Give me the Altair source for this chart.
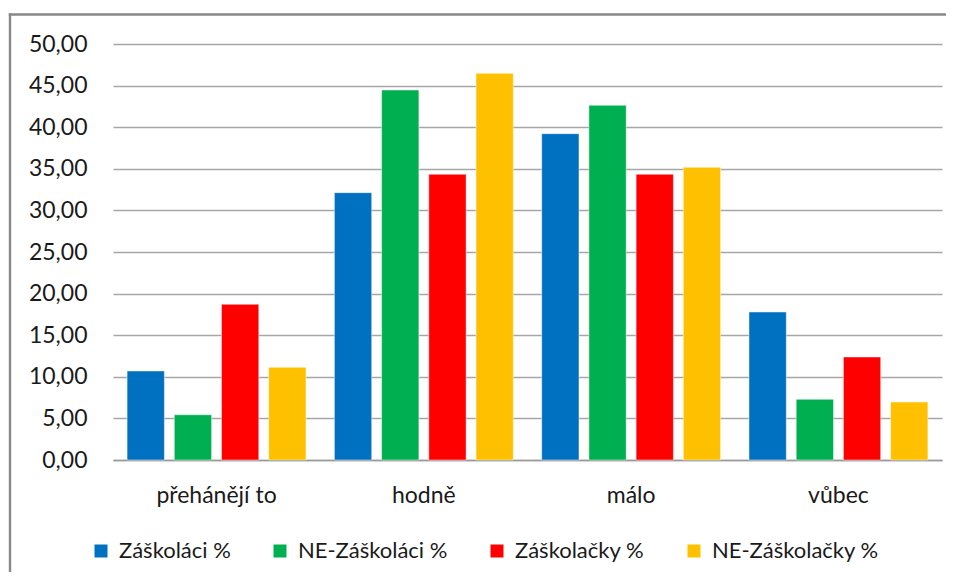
import altair as alt
import pandas as pd

categories = ["přehánějí to", "hodně", "málo", "vůbec"]
series = ["Záškoláci %", "NE-Záškoláci %", "Záškolačky %", "NE-Záškolačky %"]
zaskolaci = [10.70, 32.13, 39.22, 17.79]
ne_zaskolaci = [5.44, 44.47, 42.63, 7.29]
zaskolacky = [18.71, 34.34, 34.34, 12.38]
ne_zaskolacky = [11.14, 46.47, 35.18, 6.97]
colors = ["#0070C0", "#00B050", "#FF0000", "#FFC000"]
y_ticks = [0, 5, 10, 15, 20, 25, 30, 35, 40, 45, 50]

rows = []
for s, vals in zip(series, [zaskolaci, ne_zaskolaci, zaskolacky, ne_zaskolacky]):
    for c, v in zip(categories, vals):
        rows.append({"kategorie": c, "serie": s, "hodnota": v})
df = pd.DataFrame(rows)

FONT = "Lato"
TXT = "#1a1a1a"

one = pd.DataFrame({"f": [0]})
frame_left = alt.Chart(one).mark_rule(color="#888888", strokeWidth=2.4).encode(
    x=alt.value(-103), y=alt.value(-30.7), y2=alt.value(528)
)
frame_top = alt.Chart(one).mark_rule(color="#888888", strokeWidth=2.4).encode(
    x=alt.value(-104.2), x2=alt.value(833), y=alt.value(-29.5)
)

bars = alt.Chart(df).mark_bar(stroke="white", strokeOpacity=0.45, strokeWidth=1).encode(
    x=alt.X(
        "kategorie:N",
        sort=categories,
        scale=alt.Scale(paddingInner=0.137, paddingOuter=0.068),
        axis=alt.Axis(
            title=None, labelAngle=0, ticks=False, tickSize=0, domain=True,
            domainColor="#9A9A9A", domainWidth=1.3, grid=False,
            labelFont=FONT, labelFontSize=23, labelColor=TXT, labelPadding=24,
        ),
    ),
    xOffset=alt.XOffset("serie:N", sort=series, scale=alt.Scale(paddingInner=0.21, paddingOuter=0)),
    y=alt.Y(
        "hodnota:Q",
        scale=alt.Scale(domain=[0, 50], nice=False),
        axis=alt.Axis(
            title=None, values=y_ticks, ticks=False, tickSize=0, domain=False,
            grid=True, gridColor="#A6A6A6", gridWidth=1.3,
            labelExpr="replace(format(datum.value, '.2f'), '.', ',')",
            labelFont=FONT, labelFontSize=23, labelColor=TXT, labelPadding=26,
        ),
    ),
    color=alt.Color(
        "serie:N",
        sort=series,
        scale=alt.Scale(domain=series, range=colors),
        legend=alt.Legend(
            title=None, orient="none", legendX=-23, legendY=496,
            direction="horizontal", columns=4, symbolType="square",
            symbolSize=169, symbolStrokeWidth=0, labelFont=FONT,
            labelFontSize=22, labelColor=TXT, labelOffset=7, columnPadding=38,
            labelLimit=300,
        ),
    ),
)

chart = alt.layer(frame_left, frame_top, bars).properties(
    width=829, height=416,
    autosize=alt.AutoSizeParams(type="none"),
    padding={"left": 105, "top": 36, "right": 6, "bottom": 112},
    background="white",
).configure_view(strokeWidth=0)

chart.save("out.html", embed_options={"renderer": "svg", "actions": False})
